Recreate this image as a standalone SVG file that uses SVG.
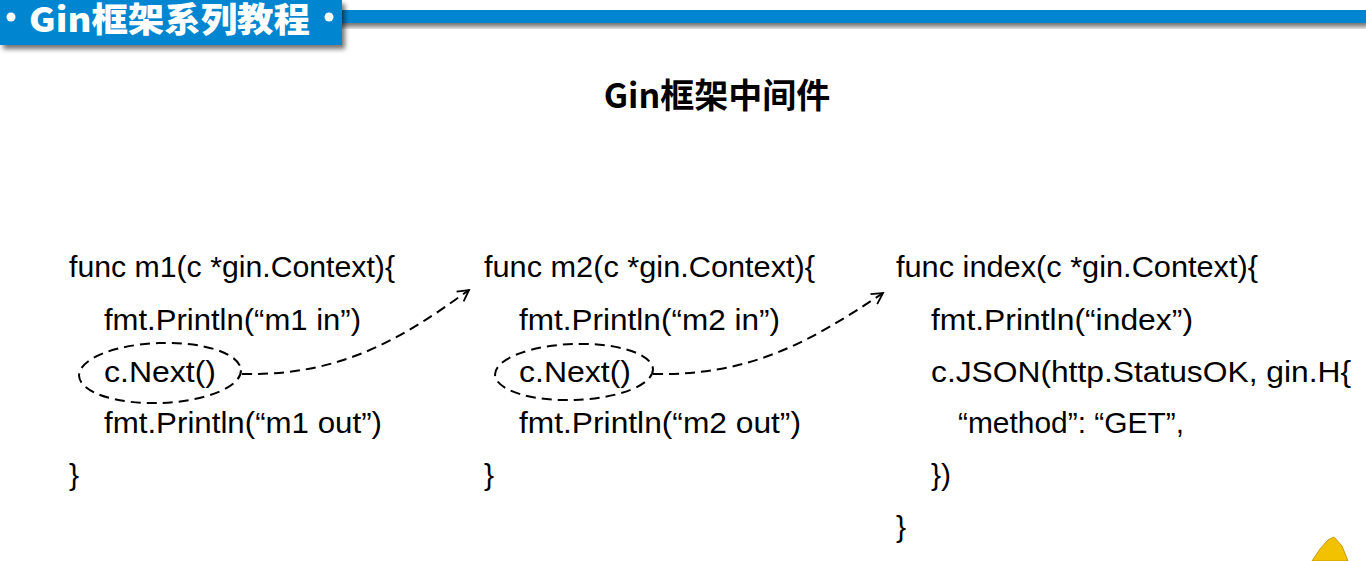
<svg xmlns="http://www.w3.org/2000/svg" width="1366" height="561" viewBox="0 0 1366 561">
<defs>
<filter id="sh" x="-10%" y="-20%" width="130%" height="160%">
<feGaussianBlur in="SourceAlpha" stdDeviation="2.5"/>
<feOffset dx="3" dy="4" result="b"/>
<feComponentTransfer><feFuncA type="linear" slope="0.55"/></feComponentTransfer>
<feMerge><feMergeNode/><feMergeNode in="SourceGraphic"/></feMerge>
</filter>
<marker id="ah" viewBox="0 0 14 14" refX="12" refY="7" markerWidth="14" markerHeight="14" markerUnits="userSpaceOnUse" orient="auto">
<path d="M1,1 L12,7 L1,13" fill="none" stroke="#000" stroke-width="1.8"/>
</marker>
</defs>
<style>
.code{font-family:"Comic Sans MS","Liberation Sans","Noto Sans",sans-serif;font-size:30px;fill:#000}
.dash{fill:none;stroke:#000;stroke-width:2;stroke-dasharray:10 6}
.title{font-family:"Noto Sans CJK SC","Liberation Sans",sans-serif;font-weight:bold;font-size:34px;fill:#000}
.hdr{font-family:"Noto Sans CJK SC",sans-serif;font-weight:900;font-size:34px;fill:#fff}
</style>
<rect width="1366" height="561" fill="#fff"/>
<g id="header">
<rect x="330" y="10" width="1036" height="13" fill="#0085d0" filter="url(#sh)"/>
<rect x="0" y="0" width="342" height="45" fill="#0085d0" filter="url(#sh)"/>
<circle cx="11" cy="17" r="4.5" fill="#fff"/>
<circle cx="329" cy="17" r="4.5" fill="#fff"/>
<text class="hdr" x="29" y="32" textLength="281" lengthAdjust="spacingAndGlyphs">Gin框架系列教程</text>
</g>
<g id="title">
<text class="title" x="717" y="108" text-anchor="middle">Gin框架中间件</text>
</g>
<g id="m1">
<text class="code" x="69" y="277" textLength="326" lengthAdjust="spacingAndGlyphs">func m1(c *gin.Context){</text>
<text class="code" x="104" y="330" textLength="257" lengthAdjust="spacingAndGlyphs">fmt.Println(“m1 in”)</text>
<text class="code" x="104" y="382" textLength="112" lengthAdjust="spacingAndGlyphs">c.Next()</text>
<text class="code" x="104" y="433" textLength="278" lengthAdjust="spacingAndGlyphs">fmt.Println(“m1 out”)</text>
<text class="code" x="69" y="485">}</text>
<ellipse class="dash" cx="160" cy="373" rx="81" ry="30" transform="rotate(-2 160 373)"/>
</g>
<g id="m2">
<text class="code" x="484" y="277" textLength="331" lengthAdjust="spacingAndGlyphs">func m2(c *gin.Context){</text>
<text class="code" x="519" y="330" textLength="261" lengthAdjust="spacingAndGlyphs">fmt.Println(“m2 in”)</text>
<text class="code" x="519" y="382" textLength="112" lengthAdjust="spacingAndGlyphs">c.Next()</text>
<text class="code" x="519" y="433" textLength="282" lengthAdjust="spacingAndGlyphs">fmt.Println(“m2 out”)</text>
<text class="code" x="484" y="485">}</text>
<ellipse class="dash" cx="574" cy="372" rx="79" ry="28" transform="rotate(-2 574 372)"/>
</g>
<g id="index">
<text class="code" x="896" y="277" textLength="362" lengthAdjust="spacingAndGlyphs">func index(c *gin.Context){</text>
<text class="code" x="931" y="330" textLength="262" lengthAdjust="spacingAndGlyphs">fmt.Println(“index”)</text>
<text class="code" x="931" y="382" textLength="420" lengthAdjust="spacingAndGlyphs">c.JSON(http.StatusOK, gin.H{</text>
<text class="code" x="958" y="433" textLength="226" lengthAdjust="spacingAndGlyphs">“method”: “GET”,</text>
<text class="code" x="931" y="485">})</text>
<text class="code" x="896" y="537">}</text>
</g>
<g id="connectors">
<path class="dash" d="M242,374 C340,376 400,340 469,290" marker-end="url(#ah)"/>
<path class="dash" d="M653,374 C750,376 810,342 883,293" marker-end="url(#ah)"/>
</g>
<g id="corner">
<path d="M1312,561 L1320,549 L1328,540 L1334,537 L1342,546 L1348,561 Z" fill="#f2c200" stroke="#c99a00" stroke-width="1"/>
</g>
</svg>
